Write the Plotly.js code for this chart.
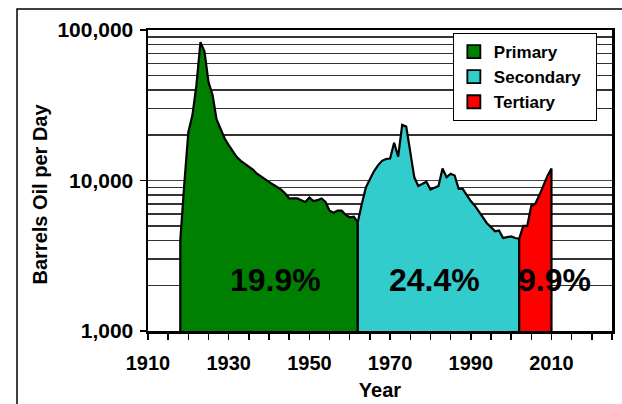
<!DOCTYPE html>
<html>
<head>
<meta charset="utf-8">
<script src="https://cdn.plot.ly/plotly-3.0.1.min.js"></script>
<style>html,body{margin:0;padding:0;background:#fff;}#chart{width:622px;height:404px;}</style>
</head>
<body>
<div id="chart"></div>
<script>
// ---- Data ----
var primaryYears = [1918,1919,1920,1921,1922,1923,1924,1925,1926,1927,1928,1929,1930,1931,1932,1933,1934,1935,1936,1937,1938,1939,1940,1941,1942,1943,1944,1945,1946,1947,1948,1949,1950,1951,1952,1953,1954,1955,1956,1957,1958,1959,1960,1961,1962];
var primaryBpd   = [4000,9500,21000,27000,43000,83000,72000,45000,37000,25500,22000,19000,17200,15600,14300,13500,12900,12300,11800,11100,10600,10200,9800,9400,9100,8700,8200,7600,7600,7600,7400,7200,7700,7300,7400,7600,7200,6300,6100,6300,6300,5900,5700,5750,5300];

var secondaryYears = [1962,1963,1964,1965,1966,1967,1968,1969,1970,1971,1972,1973,1974,1975,1976,1977,1978,1979,1980,1981,1982,1983,1984,1985,1986,1987,1988,1989,1990,1991,1992,1993,1994,1995,1996,1997,1998,1999,2000,2001,2002];
var secondaryBpd   = [5300,7000,9000,10200,11500,12600,13500,13900,14000,17800,14400,23400,22800,15500,10500,9200,9500,9800,8700,9000,9200,12000,10500,11100,10800,8800,8800,8000,7300,6800,6200,5600,5200,4900,4600,4650,4150,4200,4250,4150,4100];

var tertiaryYears = [2002,2003,2004,2005,2006,2007,2008,2009,2010];
var tertiaryBpd   = [4100,5000,5000,6800,7000,8000,9300,10700,12000];

var phaseNames   = ["Primary","Secondary","Tertiary"];
var phaseShares  = ["19.9%","24.4%","9.9%"];
var shareYears   = [1941.6, 1981, 2010.7];
var shareLevel   = 2180;

var yTickVals  = [1000,10000,100000];
var yTickText  = ["1,000","10,000","100,000"];
var yMinorVals = [2000,3000,4000,5000,6000,7000,8000,9000,20000,30000,40000,50000,60000,70000,80000,90000];
var xTickVals  = [1910,1930,1950,1970,1990,2010];
var xTickText  = ["1910","1930","1950","1970","1990","2010"];

// ---- Styling ----
var colors = ["#008000","#33CCCC","#FF0000"];
var FONT = 'Arial, "Liberation Sans", Helvetica, sans-serif';
var yFloor = yTickVals[0];

function areaTrace(xs, ys, color){
  // closed polygon down to the axis floor so the vertical edges get outlined
  var x = [xs[0]].concat(xs, [xs[xs.length-1]]);
  var y = [yFloor].concat(ys, [yFloor]);
  return {x:x, y:y, type:'scatter', mode:'lines', fill:'toself', fillcolor:color,
          line:{color:'#000', width:2.2}, showlegend:false, hoverinfo:'skip'};
}

var traces = [
  areaTrace(primaryYears, primaryBpd, colors[0]),
  areaTrace(secondaryYears, secondaryBpd, colors[1]),
  areaTrace(tertiaryYears, tertiaryBpd, colors[2])
];
// legend entries
phaseNames.forEach(function(n,i){
  traces.push({x:[null], y:[null], type:'scatter', mode:'markers', name:n + '\u00a0\u00a0', legendgroup:n,
    marker:{symbol:'square', size:13, color:colors[i], line:{color:'#000', width:1.8}}});
});

var annotations = phaseShares.map(function(t,i){
  return {x:shareYears[i], y:Math.log10(shareLevel), xref:'x', yref:'y', text:t, showarrow:false,
          font:{family:FONT, size:32, color:'#000', weight:'bold'}, xanchor:'center', yanchor:'middle'};
});
annotations.push({x:-0.2328, y:0.4568, xref:'paper', yref:'paper', text:'Barrels Oil per Day', textangle:-90,
  showarrow:false, xanchor:'center', yanchor:'middle', font:{family:FONT, size:20, color:'#000', weight:'bold'}});

var layout = {
  width:622, height:404,
  margin:{l:148, r:10, t:30, b:73},
  paper_bgcolor:'#fff', plot_bgcolor:'#fff',
  font:{family:FONT, color:'#000'},
  showlegend:true,
  legend:{x:0.657, y:0.99, xanchor:'left', yanchor:'top', bgcolor:'#fff', bordercolor:'#000', borderwidth:1,
          font:{family:FONT, size:17, color:'#000', weight:'bold'}, tracegroupgap:0, itemwidth:30},
  xaxis:{range:[1910,2025], tickmode:'array', tickvals:xTickVals, ticktext:xTickText,
         ticks:'outside', ticklen:6, tickwidth:1.5, tickcolor:'#000', ticklabelstandoff:6,
         minor:{dtick:5, tick0:1910, ticks:'outside', ticklen:6, tickwidth:1.5, tickcolor:'#000', showgrid:false},
         showgrid:false, zeroline:false, showline:true, linecolor:'#000', linewidth:2.5, mirror:true,
         tickfont:{family:FONT, size:20, weight:'bold'},
         title:{text:'Year', font:{family:FONT, size:20, weight:'bold'}, standoff:11}},
  yaxis:{type:'log', range:[3,5], tickmode:'array', tickvals:yTickVals, ticktext:yTickText,
         ticks:'outside', ticklen:6, tickwidth:1.5, tickcolor:'#000', ticklabelstandoff:2,
         showgrid:true, gridcolor:'#444', gridwidth:1.5,
         minor:{tickmode:'array', tickvals:yMinorVals, ticks:'', showgrid:true, gridcolor:'#333', gridwidth:1.5},
         zeroline:false, showline:true, linecolor:'#000', linewidth:2.5, mirror:true,
         tickfont:{family:FONT, size:21, weight:'bold'}},
  annotations:annotations,
  shapes:[{type:'rect', xref:'paper', yref:'paper', x0:-0.2823, x1:1.05, y0:-0.3, y1:1.0698,
           line:{color:'#000', width:1.5}, fillcolor:'rgba(0,0,0,0)', layer:'above'}]
};

Plotly.newPlot('chart', traces, layout, {displayModeBar:false, staticPlot:true});
</script>
</body>
</html>
